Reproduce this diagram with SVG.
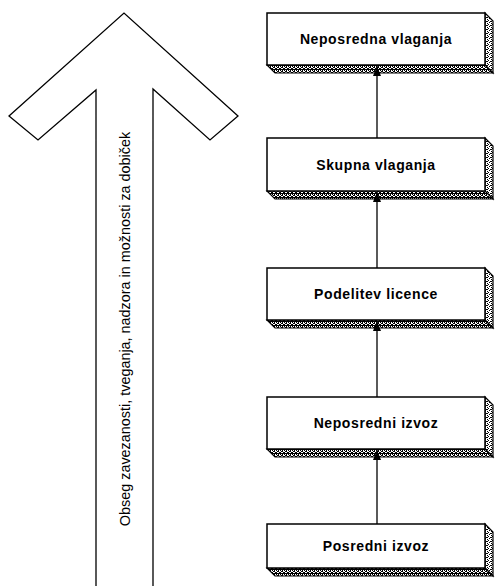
<svg xmlns="http://www.w3.org/2000/svg" width="495" height="586" viewBox="0 0 495 586">
  <style>
    .front { fill: #ffffff; stroke: #000000; stroke-width: 1.5; }
    .bottom { fill: url(#stipDark); stroke: #000000; stroke-width: 1.2; }
    .side { fill: url(#stipLight); stroke: #000000; stroke-width: 1.2; }
    .label { font-family: "Liberation Sans", Arial, sans-serif; font-size: 14px; font-weight: bold; letter-spacing: 0.6px; text-anchor: middle; fill: #000000; }
    .conn { stroke: #000000; stroke-width: 1.3; fill: none; }
    .big { fill: #ffffff; stroke: #000000; stroke-width: 1.3; stroke-linejoin: miter; }
    .bigtext { font-family: "Liberation Sans", Arial, sans-serif; font-size: 14.4px; text-anchor: middle; fill: #000000; }
  </style>
  <defs>
    <pattern id="stipDark" width="4" height="4" patternUnits="userSpaceOnUse">
      <rect width="4" height="4" fill="#ffffff"/>
      <rect x="0" y="0" width="1" height="3" fill="#000"/>
      <rect x="2" y="1" width="1" height="3" fill="#000"/>
      <rect x="1" y="3" width="1" height="1" fill="#000"/>
      <rect x="3" y="0" width="1" height="2" fill="#000"/>
      <rect x="1" y="1" width="1" height="1" fill="#000"/>
    </pattern>
    <pattern id="stipLight" width="4" height="4" patternUnits="userSpaceOnUse">
      <rect width="4" height="4" fill="#ffffff"/>
      <rect x="0" y="0" width="1" height="1" fill="#000"/>
      <rect x="2" y="1" width="1" height="1" fill="#000"/>
      <rect x="1" y="2" width="1" height="1" fill="#000"/>
      <rect x="3" y="3" width="1" height="1" fill="#000"/>
      <rect x="3" y="1" width="1" height="1" fill="#000"/>
    </pattern>
    <marker id="ah" viewBox="0 0 10 8" refX="10" refY="4" markerWidth="10" markerHeight="8" markerUnits="userSpaceOnUse" orient="auto">
      <polygon points="10,4 0,0 0,8" fill="#000"/>
    </marker>
  </defs>

  <g id="big-arrow">
    <polygon class="big" points="96,590 96,90 38,140 9,116 124,13 238,116 210,140 153,89 153,590"/>
    <text class="bigtext" transform="translate(130,329) rotate(-90)" x="0" y="0">Obseg zavezanosti, tveganja, nadzora in možnosti za dobiček</text>
  </g>

  <g id="node-neposredna-vlaganja">
    <polygon class="side" points="485,13 493,21 493,73 485,65"/>
    <polygon class="bottom" points="267,65 485,65 493,73 275,73"/>
    <rect class="front" x="267" y="13" width="218" height="52"/>
    <text class="label" x="376" y="44">Neposredna vlaganja</text>
  </g>

  <g id="node-skupna-vlaganja">
    <polygon class="side" points="485,138 493,146 493,199 485,191"/>
    <polygon class="bottom" points="267,191 485,191 493,199 275,199"/>
    <rect class="front" x="267" y="138" width="218" height="53"/>
    <text class="label" x="376" y="169.5">Skupna vlaganja</text>
  </g>

  <g id="node-podelitev-licence">
    <polygon class="side" points="485,268 493,276 493,328 485,320"/>
    <polygon class="bottom" points="267,320 485,320 493,328 275,328"/>
    <rect class="front" x="267" y="268" width="218" height="52"/>
    <text class="label" x="376" y="299">Podelitev licence</text>
  </g>

  <g id="node-neposredni-izvoz">
    <polygon class="side" points="485,397 493,405 493,457 485,449"/>
    <polygon class="bottom" points="267,449 485,449 493,457 275,457"/>
    <rect class="front" x="267" y="397" width="218" height="52"/>
    <text class="label" x="376" y="428">Neposredni izvoz</text>
  </g>

  <g id="node-posredni-izvoz">
    <polygon class="side" points="485,524 493,532 493,576 485,568"/>
    <polygon class="bottom" points="267,568 485,568 493,576 275,576"/>
    <rect class="front" x="267" y="524" width="218" height="44"/>
    <text class="label" x="376" y="551">Posredni izvoz</text>
  </g>

  <g id="connectors">
    <line class="conn" x1="377" y1="138" x2="377" y2="66" marker-end="url(#ah)"/>
    <line class="conn" x1="377" y1="268" x2="377" y2="192" marker-end="url(#ah)"/>
    <line class="conn" x1="377" y1="397" x2="377" y2="321" marker-end="url(#ah)"/>
    <line class="conn" x1="377" y1="524" x2="377" y2="450" marker-end="url(#ah)"/>
  </g>
</svg>
